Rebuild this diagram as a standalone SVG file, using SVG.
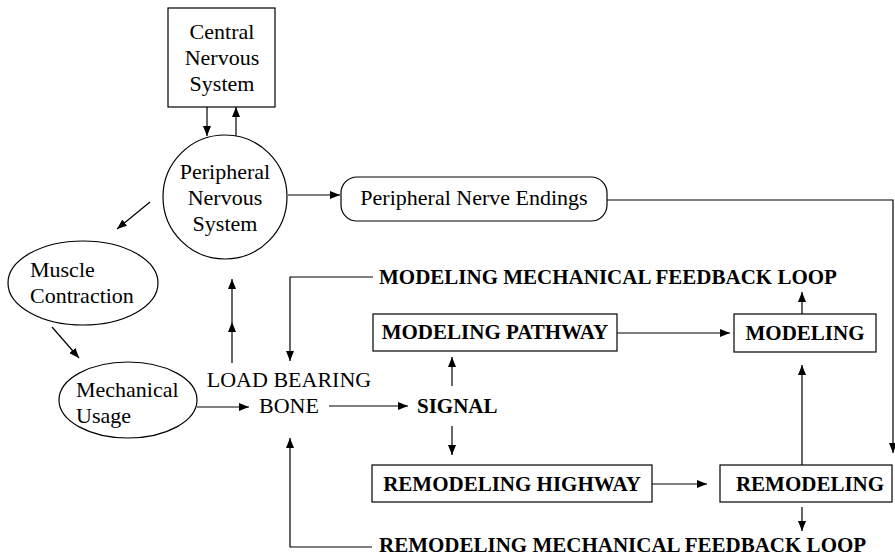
<svg xmlns="http://www.w3.org/2000/svg" width="895" height="556" viewBox="0 0 895 556">
<style>
.n{font-family:"Liberation Serif","Times New Roman",serif;font-size:22px;fill:#000}
.b{font-family:"Liberation Serif","Times New Roman",serif;font-size:21px;font-weight:bold;fill:#000}
.c{text-anchor:middle}
.s{fill:#fff;stroke:#000;stroke-width:1.2}
.l{fill:none;stroke:#000;stroke-width:1.2}
</style>
<defs>
<marker id="ah" markerUnits="userSpaceOnUse" markerWidth="10" markerHeight="8" refX="10" refY="4" orient="auto">
<path d="M0,0 L10,4 L0,8 z" fill="#000"/>
</marker>
</defs>
<rect width="895" height="556" fill="#fff"/>
<g id="connectors">
<path class="l" d="M207,107 L207,136" marker-end="url(#ah)"/>
<path class="l" d="M236,136 L236,107" marker-end="url(#ah)"/>
<path class="l" d="M288,195 L340,195" marker-end="url(#ah)"/>
<path class="l" d="M607,200 L893,200 L893,453" marker-end="url(#ah)"/>
<path class="l" d="M150,202 L117,229" marker-end="url(#ah)"/>
<path class="l" d="M52,327 L79,358" marker-end="url(#ah)"/>
<path class="l" d="M197,407 L249,407" marker-end="url(#ah)"/>
<path class="l" d="M232,363 L232,322 L232,279" marker-mid="url(#ah)" marker-end="url(#ah)"/>
<path class="l" d="M373,277 L290,277 L290,361" marker-end="url(#ah)"/>
<path class="l" d="M329,406 L408,406" marker-end="url(#ah)"/>
<path class="l" d="M452,386 L452,357" marker-end="url(#ah)"/>
<path class="l" d="M452,426 L452,455" marker-end="url(#ah)"/>
<path class="l" d="M617,333 L730,333" marker-end="url(#ah)"/>
<path class="l" d="M802,314 L802,292" marker-end="url(#ah)"/>
<path class="l" d="M652,484 L707,484" marker-end="url(#ah)"/>
<path class="l" d="M802,465 L802,365" marker-end="url(#ah)"/>
<path class="l" d="M802,507 L802,531" marker-end="url(#ah)"/>
<path class="l" d="M372,547 L290,547 L290,438" marker-end="url(#ah)"/>
</g>
<g id="cns">
<rect class="s" x="168" y="8" width="107" height="99"/>
<text class="n c" x="222" y="39">Central</text>
<text class="n c" x="222" y="65">Nervous</text>
<text class="n c" x="222" y="91">System</text>
</g>
<g id="pns">
<circle class="s" cx="225" cy="197" r="62"/>
<text class="n c" x="225" y="179">Peripheral</text>
<text class="n c" x="225" y="205">Nervous</text>
<text class="n c" x="225" y="231">System</text>
</g>
<g id="pne">
<rect class="s" x="341" y="177" width="266" height="44" rx="16"/>
<text class="n c" x="474" y="205">Peripheral Nerve Endings</text>
</g>
<g id="muscle">
<ellipse class="s" cx="83" cy="283" rx="75" ry="42"/>
<text class="n" x="30" y="277">Muscle</text>
<text class="n" x="30" y="303">Contraction</text>
</g>
<g id="mech">
<ellipse class="s" cx="128" cy="400" rx="69" ry="38"/>
<text class="n" x="76" y="397">Mechanical</text>
<text class="n" x="76" y="423">Usage</text>
</g>
<g id="bone">
<text class="n c" x="289" y="387">LOAD BEARING</text>
<text class="n c" x="289" y="413">BONE</text>
</g>
<g id="signal">
<text class="b" x="417" y="413">SIGNAL</text>
</g>
<g id="mloop">
<text class="b" x="379" y="284">MODELING MECHANICAL FEEDBACK LOOP</text>
</g>
<g id="mpath">
<rect class="s" x="373" y="314" width="244" height="37"/>
<text class="b c" x="495" y="339">MODELING PATHWAY</text>
</g>
<g id="modeling">
<rect class="s" x="734" y="314" width="142" height="38"/>
<text class="b c" x="805" y="340">MODELING</text>
</g>
<g id="rhigh">
<rect class="s" x="372" y="465" width="280" height="37"/>
<text class="b c" x="512" y="491">REMODELING HIGHWAY</text>
</g>
<g id="remodeling">
<rect class="s" x="720" y="465" width="172" height="37"/>
<text class="b c" x="810" y="491">REMODELING</text>
</g>
<g id="rloop">
<text class="b" x="379" y="552">REMODELING MECHANICAL FEEDBACK LOOP</text>
</g>
</svg>
